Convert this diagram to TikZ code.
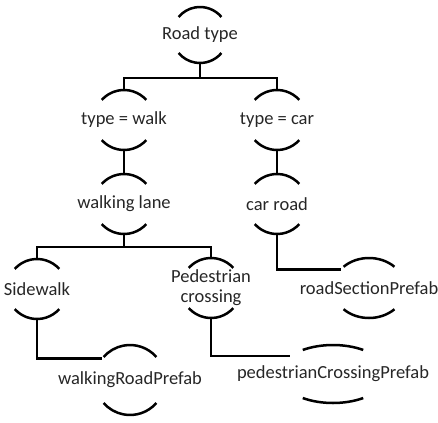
\documentclass[tikz,border=0pt]{standalone}
\usepackage{fontspec}
\setmainfont{Carlito}
\begin{document}
\begin{tikzpicture}[x=1pt,y=1pt,
  lbl/.style={inner sep=0pt,text=black!85,font=\fontsize{18.5}{20}\selectfont,align=center},
  arcline/.style={line width=2.5pt},
  wire/.style={line width=2.4pt}]
  \useasboundingbox (0,0) rectangle (438,-422);

  % labels
  \node[lbl] (road)  at (200,-35)  {Road type};
  \node[lbl] (walk)  at (124,-120) {type = walk};
  \node[lbl] (car)   at (277,-120) {type = car};
  \node[lbl] (lane)  at (124,-204) {walking lane};
  \node[lbl] (croad) at (277,-204) {car road};
  \node[lbl] (side)  at (37,-289)  {Sidewalk};
  \node[lbl] (ped)   at (211,-288) {Pedestrian\\crossing};
  \node[lbl] (rsp)   at (369,-288) {roadSectionPrefab};
  \node[lbl] (wrp)   at (130,-380) {walkingRoadPrefab};
  \node[lbl] (pcp)   at (333,-374) {pedestrianCrossingPrefab};

  % arcs above and below each label
  \foreach \n/\rx/\ry/\a in {road/28/28/40, walk/30/30/42, car/30/30/42,
      lane/30/30/42, croad/30/30/42, side/30/30/42, ped/30/30/42,
      rsp/36/30/45, wrp/35/35/41, pcp/54/29/56} {
    \draw[arcline] ([shift={(\a:\rx pt and \ry pt)}]\n.center)
      arc[start angle=\a, delta angle={180-2*\a}, x radius=\rx pt, y radius=\ry pt];
    \draw[arcline] ([shift={(-\a:\rx pt and \ry pt)}]\n.center)
      arc[start angle=-\a, delta angle={-180+2*\a}, x radius=\rx pt, y radius=\ry pt];
    \coordinate (\n-top) at ([yshift=\ry pt]\n.center);
    \coordinate (\n-bot) at ([yshift=-\ry pt]\n.center);
    \coordinate (\n-in)  at ([shift={(142:\rx pt and \ry pt)}]\n.center);
  }

  % connectors
  \draw[wire] (road-bot) -- ++(0,-15) coordinate (road-bus) -| (walk-top)
              (road-bus) -| (car-top);
  \draw[wire] (walk-bot) -- (lane-top);
  \draw[wire] (car-bot) -- (croad-top);
  \draw[wire] (lane-bot) -- ++(0,-13) coordinate (lane-bus) -| (side-top)
              (lane-bus) -| (ped-top);
  \draw[wire] (croad-bot) |- (rsp-in);
  \draw[wire] (side-bot) |- (wrp-in);
  \draw[wire] (ped-bot) |- (pcp-in);
\end{tikzpicture}
\end{document}
